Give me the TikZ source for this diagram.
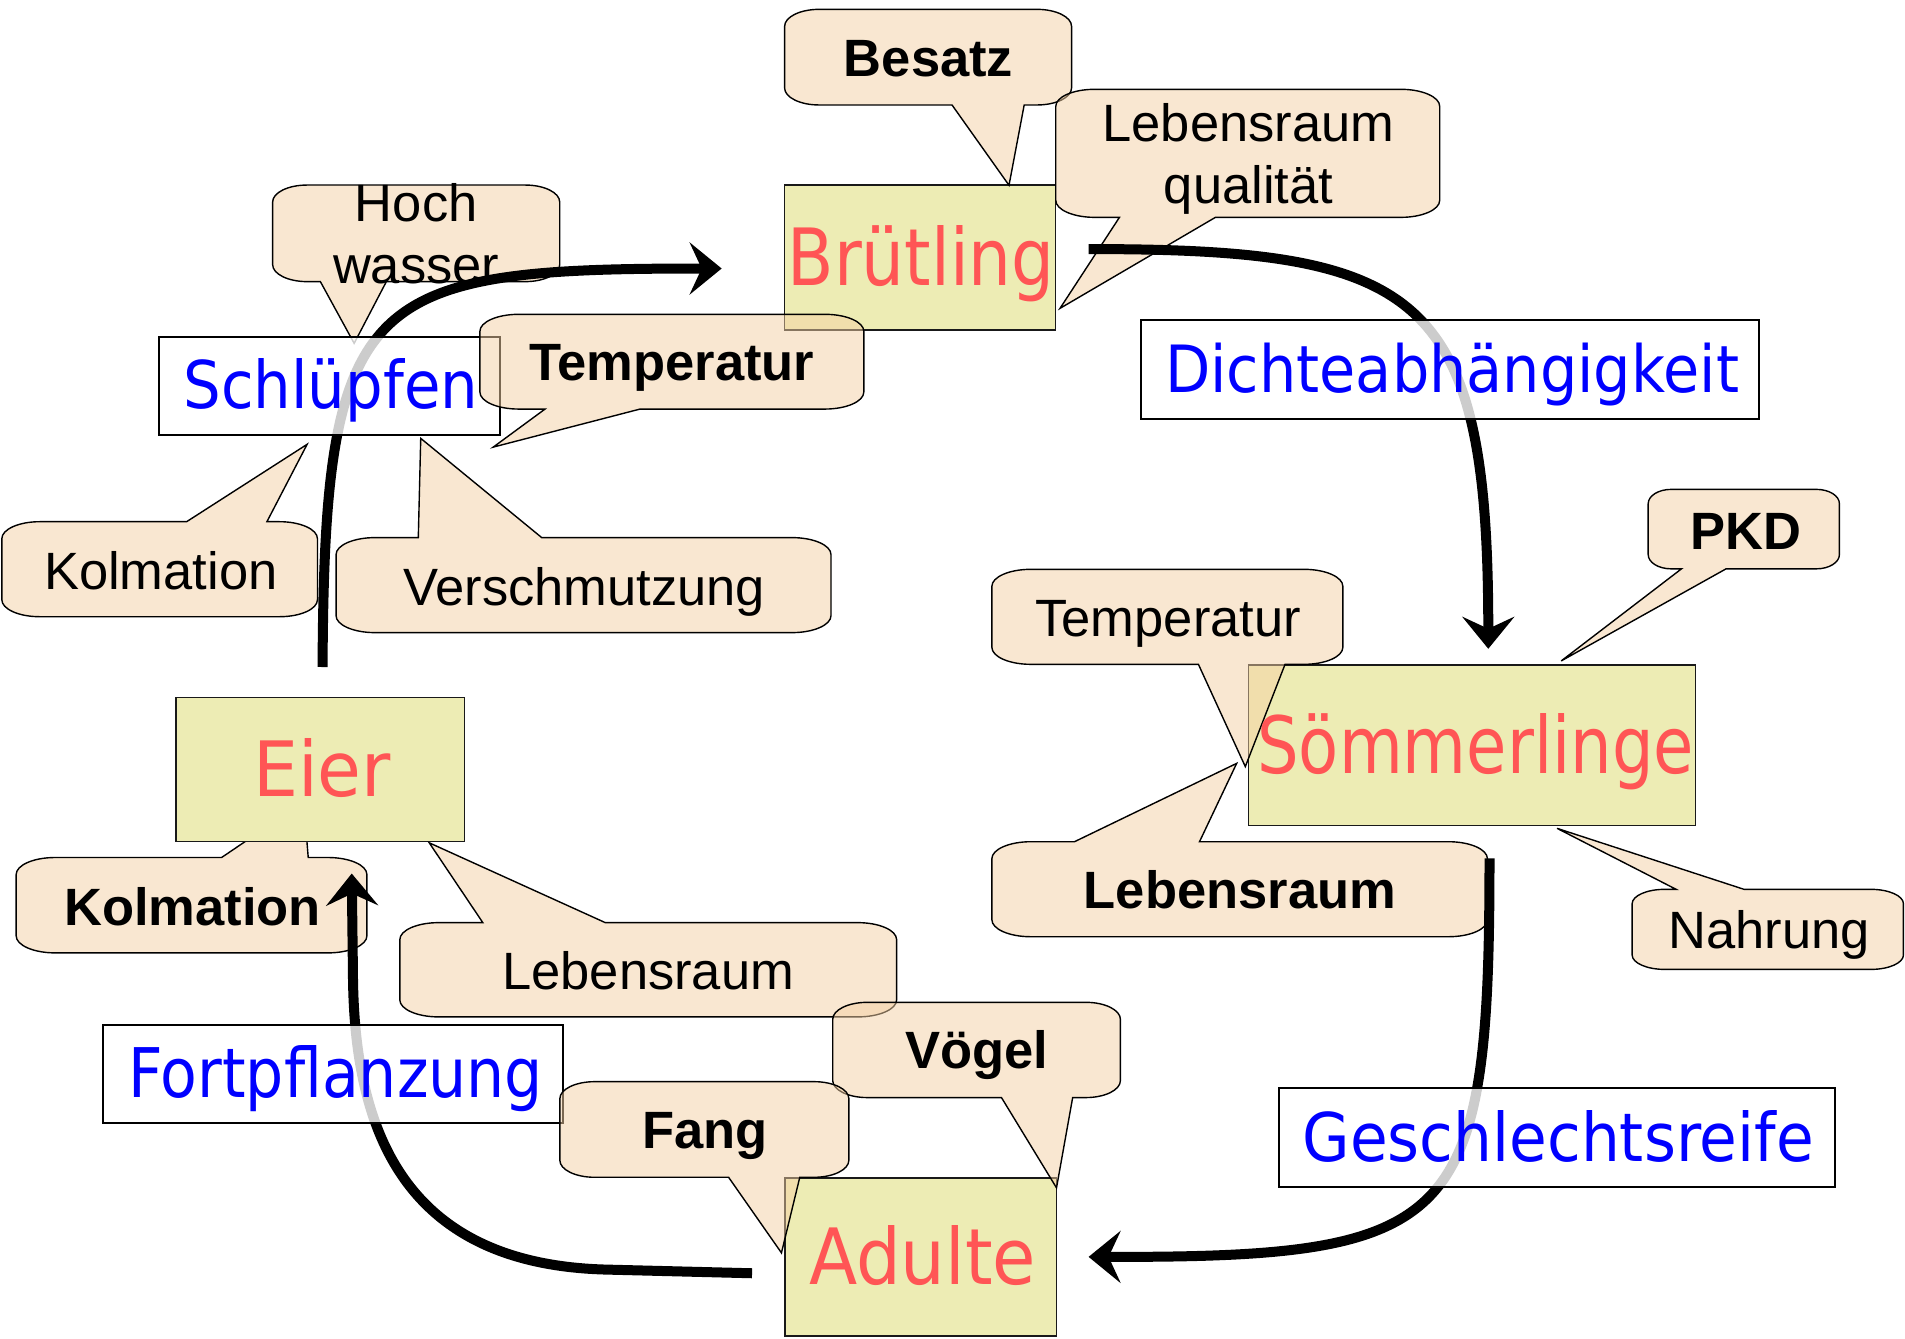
\documentclass[tikz,border=0pt]{standalone}
\usepackage{fontspec}
\usetikzlibrary{arrows.meta}
\newfontfamily\arialf{Liberation Sans}
\newfontfamily\comicf{DejaVu Sans}
\definecolor{calfill}{RGB}{245,209,165}
\definecolor{boxfill}{RGB}{237,236,180}
\definecolor{boxred}{RGB}{255,85,85}
\definecolor{lblue}{RGB}{0,0,255}
\def\ck{0.448}
\newcommand\setcr[4]{\pgfmathsetmacro\crx{min(32,0.12*(#3-#1))}\pgfmathsetmacro\cry{min(14,0.18*(#4-#2))}}
% callout with pointer on the bottom edge: L T R B a b tipx tipy
\newcommand\calB[8]{\setcr{#1}{#2}{#3}{#4}%
\path[callout] ({#1+\crx},#2) -- ({#3-\crx},#2)
 .. controls ({#3-\ck*\crx},#2) and (#3,{#2+\ck*\cry}) .. (#3,{#2+\cry})
 -- (#3,{#4-\cry})
 .. controls (#3,{#4-\ck*\cry}) and ({#3-\ck*\crx},#4) .. ({#3-\crx},#4)
 -- (#6,#4) -- (#7,#8) -- (#5,#4) -- ({#1+\crx},#4)
 .. controls ({#1+\ck*\crx},#4) and (#1,{#4-\ck*\cry}) .. (#1,{#4-\cry})
 -- (#1,{#2+\cry})
 .. controls (#1,{#2+\ck*\cry}) and ({#1+\ck*\crx},#2) .. ({#1+\crx},#2) -- cycle;}
% callout with pointer on the top edge: L T R B a b tipx tipy
\newcommand\calT[8]{\setcr{#1}{#2}{#3}{#4}%
\path[callout] ({#1+\crx},#2) -- (#5,#2) -- (#7,#8) -- (#6,#2) -- ({#3-\crx},#2)
 .. controls ({#3-\ck*\crx},#2) and (#3,{#2+\ck*\cry}) .. (#3,{#2+\cry})
 -- (#3,{#4-\cry})
 .. controls (#3,{#4-\ck*\cry}) and ({#3-\ck*\crx},#4) .. ({#3-\crx},#4)
 -- ({#1+\crx},#4)
 .. controls ({#1+\ck*\crx},#4) and (#1,{#4-\ck*\cry}) .. (#1,{#4-\cry})
 -- (#1,{#2+\cry})
 .. controls (#1,{#2+\ck*\cry}) and ({#1+\ck*\crx},#2) .. ({#1+\crx},#2) -- cycle;}
\begin{document}
\begin{tikzpicture}[x=1.2149pt,y=-1.2149pt,
  callout/.style={draw=black,line width=1.4pt,fill=calfill,fill opacity=0.5},
  mainbox/.style={draw=black!90,line width=1.5pt,fill=boxfill},
  lblbox/.style={draw=black,line width=2pt,fill=white,fill opacity=0.8},
  arr/.style={line width=10pt,-{Stealth[length=32pt,width=52pt,inset=12pt]}},
  ctext/.style={anchor=base,inner sep=0pt,font=\arialf\fontsize{52.5}{63}\selectfont},
  cbold/.style={anchor=base,inner sep=0pt,font=\arialf\bfseries\fontsize{52.5}{63}\selectfont},
  mtext/.style={anchor=base,inner sep=0pt,text=boxred},
  ltext/.style={anchor=base,inner sep=0pt,text=lblue}]
\useasboundingbox (0,0) rectangle (1568,1101.3);
\fill[white] (0,0) rectangle (1568,1101.3);

% callout partly hidden below the Eier box
\calT{13.3}{705.8}{302}{784.3}{182.4}{253.7}{250}{660}

% main stage boxes
\path[mainbox] (645.8,152.3) rectangle (868.8,271.6);
\path[mainbox] (1027.6,547.4) rectangle (1395.7,679.6);
\path[mainbox] (145,574.2) rectangle (382.3,692.7);
\path[mainbox] (646.2,969.6) rectangle (869.6,1099.5);
\coordinate (bru) at (757.3,212);
\coordinate (som) at (1211.6,613.5);
\coordinate (eier) at (263.6,633.4);
\coordinate (adu) at (757.9,1034.5);

% callouts (below the arrows)
\calB{645.8}{7.7}{882}{86.4}{783.6}{843}{830.5}{152.5}
\calB{869}{73.5}{1185}{178.9}{921.4}{1000.4}{872.5}{253.8}
\calB{224.4}{152.3}{460.7}{231.8}{263.7}{318}{291.5}{282.6}
\calT{1.5}{429.4}{261.3}{507.6}{153.6}{219.7}{252.8}{365.7}
\calT{276.6}{442.5}{684}{520.7}{344.3}{445.9}{346.3}{360.8}
\calB{816.4}{468.6}{1105.3}{546.8}{986.4}{1057.7}{1025}{631}
\calB{1356.6}{402.8}{1514}{468.2}{1384}{1420.7}{1285}{544}
\calT{816.4}{692.8}{1224.3}{771}{884.4}{987.3}{1017.9}{628.3}
\calT{1343.4}{732}{1566.7}{797.9}{1379.6}{1435.5}{1281.6}{681.8}
\calT{329.1}{759.4}{738}{837}{397.4}{498.2}{353.3}{693.7}
\calB{685.4}{825}{922.2}{903.4}{824.3}{882.9}{869.6}{977.7}

% arrows of the cycle
\coordinate (a1s) at (265.5,549);
\coordinate (a1e) at (594,221);
\coordinate (a2s) at (896,205);
\coordinate (a2e) at (1225,534);
\coordinate (a3s) at (1226,706.5);
\coordinate (a3e) at (896,1034.5);
\coordinate (a4s) at (619,1048);
\coordinate (a4e) at (289.5,719);
\draw[arr] (a1s) .. controls (267,240) and (300,221) .. (a1e);
\draw[arr] (a2s) .. controls (1170,205) and (1225,240) .. (a2e);
\draw[arr] (a3s) .. controls (1226,1010) and (1200,1035) .. (a3e);
\draw[arr] (a4s) -- (500,1045) .. controls (327,1041) and (291,923) .. (290.5,800) -- (a4e);

% transition label boxes
\path[lblbox] (130.9,277.1) rectangle (411.6,358);
\path[lblbox] (938.9,263.4) rectangle (1448,344.9);
\path[lblbox] (1053,895.8) rectangle (1510,976.8);
\path[lblbox] (84.5,843.7) rectangle (463.8,924.1);

% callouts above the label boxes
\calB{395}{258.7}{711}{336.7}{448.6}{526.8}{406}{368}
\calB{460.8}{890.3}{698.7}{969}{599.7}{658.3}{643.2}{1031.2}

% stage texts
\node[mtext] (tbru) at (758.2,234.6) {\resizebox{267pt}{60pt}{\comicf Brütling}};
\node[mtext] (tsom) at (1214.6,636.5) {\resizebox{436.6pt}{60pt}{\comicf Sömmerlinge}};
\node[mtext] (teier) at (265.1,655.8) {\resizebox{137.9pt}{58pt}{\comicf Eier}};
\node[mtext] (tadu) at (759.4,1057.1) {\resizebox{226.8pt}{59pt}{\comicf Adulte}};

% transition texts
\node[ltext] (tsch) at (272.3,336.1) {\resizebox{294.5pt}{50pt}{\comicf Schlüpfen}};
\node[ltext] (tdic) at (1195.2,323.2) {\resizebox{573.4pt}{49.5pt}{\comicf Dichteabhängigkeit}};
\node[ltext] (tges) at (1282.6,956.2) {\resizebox{511.5pt}{51pt}{\comicf Geschlechtsreife}};
\node[ltext] (tfor) at (276.3,903.4) {\resizebox{414.5pt}{52pt}{\comicf Fortpflanzung}};

% callout texts
\node[cbold] (cbes) at (764.3,63.1) {Besatz};
\node[ctext] (cleb1) at (1027.6,116.6) {Lebensraum};
\node[ctext] (cleb2) at (1027.6,167.9) {qualität};
\node[ctext] (choch) at (342.6,182) {Hoch};
\node[ctext] (cwas) at (342.6,233.2) {wasser};
\node[cbold] (ctemp1) at (552.9,313.3) {Temperatur};
\node[ctext] (ckol1) at (132.3,485.1) {Kolmation};
\node[ctext] (cver) at (480.8,498) {Verschmutzung};
\node[ctext] (ctemp2) at (961.5,524) {Temperatur};
\node[cbold] (cpkd) at (1436.7,452.2) {PKD};
\node[cbold] (cleb3) at (1020.6,747.7) {Lebensraum};
\node[ctext] (cnah) at (1456.2,780.6) {Nahrung};
\node[cbold] (ckol2) at (158.5,761.8) {Kolmation};
\node[ctext] (cleb4) at (533.5,814.3) {Lebensraum};
\node[cbold] (cvoe) at (804.1,879.2) {Vögel};
\node[cbold] (cfang) at (580.4,944.9) {Fang};
\end{tikzpicture}
\end{document}
